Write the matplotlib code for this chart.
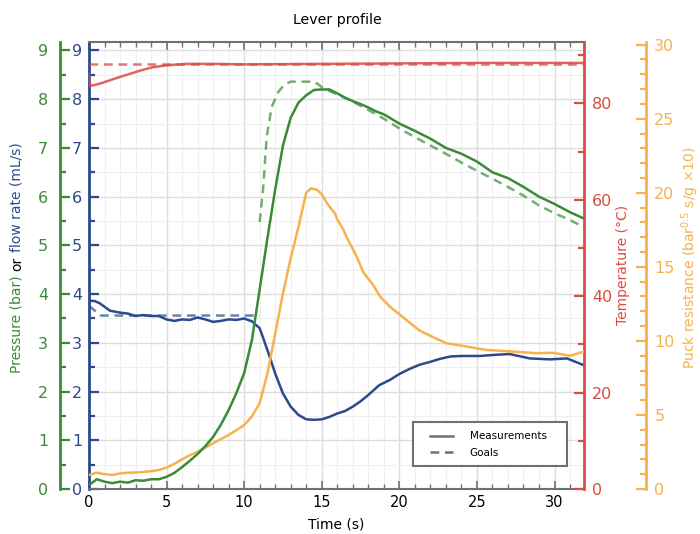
import matplotlib
matplotlib.use("Agg")
import matplotlib.pyplot as plt
from matplotlib.lines import Line2D
from matplotlib.patches import Rectangle
from matplotlib.ticker import MultipleLocator

plt.rcParams['font.family'] = ['DejaVu Sans']

# ---------------- data ----------------
time_pressure = [0, 0.5, 1, 1.5, 2, 2.5, 3, 3.5, 4, 4.5, 5, 5.5, 6, 6.5, 7, 7.5, 8, 8.5,
                 9, 9.5, 10, 10.5, 11, 11.5, 12, 12.5, 13, 13.5, 14, 14.5, 15, 15.5, 16,
                 16.5, 17, 17.5, 18, 18.5, 19, 20, 21, 22, 23, 24, 25, 26, 27, 28, 29,
                 30, 31, 31.9]
pressure = [0.08, 0.2, 0.15, 0.12, 0.15, 0.13, 0.18, 0.17, 0.2, 0.2, 0.25, 0.33, 0.45,
            0.58, 0.72, 0.88, 1.07, 1.32, 1.62, 1.97, 2.38, 3.06, 4.1, 5.15, 6.15, 7.05,
            7.62, 7.93, 8.08, 8.19, 8.2, 8.2, 8.12, 8.03, 7.96, 7.9, 7.83, 7.75, 7.69,
            7.5, 7.35, 7.19, 7.0, 6.88, 6.72, 6.5, 6.38, 6.2, 6.0, 5.85, 5.68, 5.55]

time_pressure_goal = [11.0, 11.23, 11.45, 11.77, 12.2, 12.6, 13.0, 14.5, 14.8, 15.1, 16,
                      17, 18, 19, 20, 21, 22, 23, 24, 25, 26, 27, 28, 29, 30, 31, 31.6]
pressure_goal = [5.48, 6.2, 7.23, 7.84, 8.15, 8.3, 8.36, 8.36, 8.3, 8.22, 8.1, 7.95, 7.78,
                 7.6, 7.4, 7.22, 7.05, 6.88, 6.7, 6.53, 6.37, 6.2, 6.02, 5.82, 5.66, 5.52,
                 5.42]

time_flow = [0, 0.35, 0.7, 1.0, 1.35, 2, 2.5, 3, 3.5, 4, 4.5, 5, 5.5, 6, 6.5, 7, 7.5, 8,
             8.5, 9, 9.5, 10, 10.5, 11, 11.5, 12, 12.5, 13, 13.5, 14, 14.5, 15, 15.5, 16,
             16.5, 17, 17.5, 18, 18.7, 19.4, 20, 20.7, 21.3, 22, 22.6, 23.3, 24, 25.2, 26,
             27.1, 28.4, 29.7, 30.8, 31.9]
flow = [3.86, 3.86, 3.81, 3.74, 3.66, 3.62, 3.6, 3.55, 3.57, 3.55, 3.55, 3.48, 3.45, 3.48,
        3.47, 3.52, 3.48, 3.43, 3.45, 3.48, 3.47, 3.5, 3.44, 3.3, 2.85, 2.37, 1.96, 1.69,
        1.52, 1.43, 1.42, 1.43, 1.48, 1.55, 1.6, 1.69, 1.8, 1.93, 2.13, 2.24, 2.36, 2.47,
        2.55, 2.61, 2.67, 2.72, 2.73, 2.73, 2.75, 2.77, 2.68, 2.66, 2.68, 2.54]

time_flow_goal = [0, 0.75, 11.0]
flow_goal = [3.76, 3.56, 3.56]

time_temp = [0, 0.08, 0.7, 2, 3.3, 4.1, 5, 6.3, 8, 10, 15, 20, 25, 31.9]
temperature = [86.3, 83.6, 84.1, 85.5, 86.8, 87.5, 87.9, 88.2, 88.2, 88.1, 88.2, 88.3,
               88.4, 88.4]

time_temp_goal = [0, 31.9]
temperature_goal = [88.1, 88.1]

time_resist = [0, 0.5, 1, 1.5, 2, 2.5, 3, 3.5, 4, 4.5, 5, 5.5, 6, 6.5, 7, 7.5, 8, 8.5, 9,
               9.5, 10, 10.5, 11, 11.5, 12, 12.5, 13, 13.5, 14.0, 14.3, 14.7, 15.0, 15.4,
               15.85, 16.0, 16.4, 16.6, 17.2, 17.7, 18.3, 18.75, 19.4, 20.0, 20.7, 21.3,
               22.0, 23.0, 24.1, 25.6, 27.3, 28.85, 29.9, 31.0, 31.9]
resistance = [0.95, 1.1, 1.0, 0.95, 1.05, 1.1, 1.12, 1.15, 1.2, 1.28, 1.45, 1.7, 2.0,
              2.28, 2.52, 2.8, 3.09, 3.37, 3.65, 3.97, 4.32, 4.9, 5.8, 7.8, 10.5, 13.2,
              15.6, 17.7, 20.0, 20.3, 20.2, 19.9, 19.2, 18.6, 18.2, 17.5, 17.0, 15.8, 14.6,
              13.8, 13.0, 12.3, 11.8, 11.2, 10.7, 10.34, 9.85, 9.66, 9.39, 9.28, 9.17, 9.2,
              8.99, 9.28]

legend_labels = ["Measurements", "Goals"]

# ---------------- style ----------------
GREEN = "#3b8a38"
BLUE = "#2b4a8b"
RED = "#dc4a42"
ORANGE = "#f7b14d"
GRAY = "#707070"
LW = 1.8
DASH = (3.5, 2.3)
TICK_FS = 11.5
LABEL_FS = 10

W, H = 700, 534
fig = plt.figure(figsize=(W / 100, H / 100), dpi=100)
ax = fig.add_axes([89 / W, 1 - 489 / H, 495 / W, (489 - 41.7) / H])
ax_t = ax.twinx()
ax_r = ax.twinx()
ax_p = ax.twinx()

# limits
ax.set_xlim(0, 31.9)
ax.set_ylim(0, 9.18)
ax_p.set_ylim(0, 9.18)
ax_t.set_ylim(0, 92.8)
ax_r.set_ylim(0, 30.2)

# grid
ax.set_axisbelow(True)
ax.xaxis.set_major_locator(MultipleLocator(5))
ax.xaxis.set_minor_locator(MultipleLocator(1))
ax.yaxis.set_major_locator(MultipleLocator(1))
ax.yaxis.set_minor_locator(MultipleLocator(0.5))
ax.grid(which='major', color='#dddddd', lw=1.0)
ax.grid(which='minor', color='#efefef', lw=0.8)

# main axes spines / ticks
ax.spines['right'].set_visible(False)
for s in ('top', 'bottom'):
    ax.spines[s].set_color(GRAY)
    ax.spines[s].set_linewidth(1.5)
ax.spines['left'].set_color(BLUE)
ax.spines['left'].set_linewidth(2)
ax.tick_params(axis='x', which='both', direction='in', top=True, bottom=True,
               colors=GRAY, labelcolor='black', labelsize=10.5, pad=4.5)
ax.tick_params(axis='x', which='major', length=6, width=1.2)
ax.tick_params(axis='x', which='minor', length=3.5, width=1.0)
ax.tick_params(axis='y', which='both', direction='in', left=True, right=False,
               colors=BLUE, labelsize=TICK_FS, pad=5.0)
ax.tick_params(axis='y', which='major', length=7, width=1.6)
ax.tick_params(axis='y', which='minor', length=4.5, width=1.6)

def style_twin(a, side, color, offset, major, minor):
    for s in ('top', 'bottom', 'left', 'right'):
        a.spines[s].set_visible(s == side)
    a.spines[side].set_color(color)
    a.spines[side].set_linewidth(2)
    if offset:
        a.spines[side].set_position(('outward', offset))
    if side == 'left':
        a.yaxis.tick_left()
        a.yaxis.set_label_position('left')
    else:
        a.yaxis.tick_right()
    a.yaxis.set_major_locator(MultipleLocator(major))
    a.yaxis.set_minor_locator(MultipleLocator(minor))
    a.tick_params(axis='y', which='both', direction='in', colors=color,
                  labelsize=TICK_FS, pad=6.0)
    a.tick_params(axis='y', which='major', length=7, width=1.6)
    a.tick_params(axis='y', which='minor', length=4.5, width=1.6)

style_twin(ax_t, 'right', RED, 0, 20, 10)
style_twin(ax_r, 'right', ORANGE, 44.6, 5, 1)
style_twin(ax_p, 'left', GREEN, 20.9, 1, 0.5)
ax_p.tick_params(axis='y', pad=8.5)

# ---------------- data lines ----------------
ax_t.plot(time_temp_goal, temperature_goal, color=RED, lw=LW, alpha=0.75, dashes=DASH)
ax_t.plot(time_temp, temperature, color=RED, lw=LW, alpha=0.85)
ax.plot(time_flow_goal, flow_goal, color=BLUE, lw=LW, alpha=0.7, dashes=DASH)
ax.plot(time_flow, flow, color=BLUE, lw=LW)
ax_r.plot(time_resist, resistance, color=ORANGE, lw=LW)
ax_p.plot(time_pressure_goal, pressure_goal, color=GREEN, lw=LW, alpha=0.7, dashes=DASH)
ax_p.plot(time_pressure, pressure, color=GREEN, lw=LW)

# legend (frame drawn as a separate box)
px2ax = lambda x, y: ((x - 89) / 495, (489 - y) / (489 - 41.7))
x0, y0 = px2ax(413, 466)
x1, y1 = px2ax(567, 422)
box = Rectangle((x0, y0), x1 - x0, y1 - y0, transform=ax_p.transAxes,
                facecolor='white', edgecolor=GRAY, lw=1.5, zorder=4)
ax_p.add_patch(box)
handles = [Line2D([], [], color=GRAY, lw=LW),
           Line2D([], [], color=GRAY, lw=LW, dashes=DASH)]
leg = ax_p.legend(handles, legend_labels, loc='center left',
                  bbox_to_anchor=px2ax(430, 444.5), frameon=False, fontsize=7.5,
                  handlelength=2.2, borderpad=0, labelspacing=0.6,
                  handletextpad=1.6, borderaxespad=0)
leg.set_zorder(5)

# ---------------- texts ----------------
fig.text(337.5 / W, 1 - 24.3 / H, "Lever profile", ha='center', va='baseline',
         fontsize=10.2)
fig.text(336.5 / W, 1 - 529 / H, "Time (s)", ha='center', va='baseline',
         fontsize=LABEL_FS)
fig.text(623 / W, 1 - 265 / H, "Temperature (°C)", ha='center', va='center',
         rotation=90, color=RED, fontsize=LABEL_FS)
fig.text(690 / W, 1 - 258 / H, "Puck resistance (bar$^{0.5}$ s/g ×10)", ha='center',
         va='center', rotation=90, color=ORANGE, fontsize=LABEL_FS)

fig.canvas.draw()
renderer = fig.canvas.get_renderer()

def width_px(s):
    t = fig.text(0, 0, s, fontsize=LABEL_FS)
    w = t.get_window_extent(renderer).width
    t.remove()
    return w

parts = [("Pressure (bar)", GREEN), ("or", "black"), ("flow rate (mL/s)", BLUE)]
total = width_px("Pressure (bar) or flow rate (mL/s)")
offsets = [0,
           width_px("Pressure (bar) or") - width_px("or"),
           width_px("Pressure (bar) or flow rate (mL/s)") - width_px("flow rate (mL/s)")]
start = (H - 257.5) - total / 2
for (txt, col), off in zip(parts, offsets):
    fig.text(20.8 / W, (start + off) / H, txt, rotation=90, rotation_mode='anchor',
             ha='left', va='baseline', color=col, fontsize=LABEL_FS)

fig.savefig("out.png", dpi=100)
